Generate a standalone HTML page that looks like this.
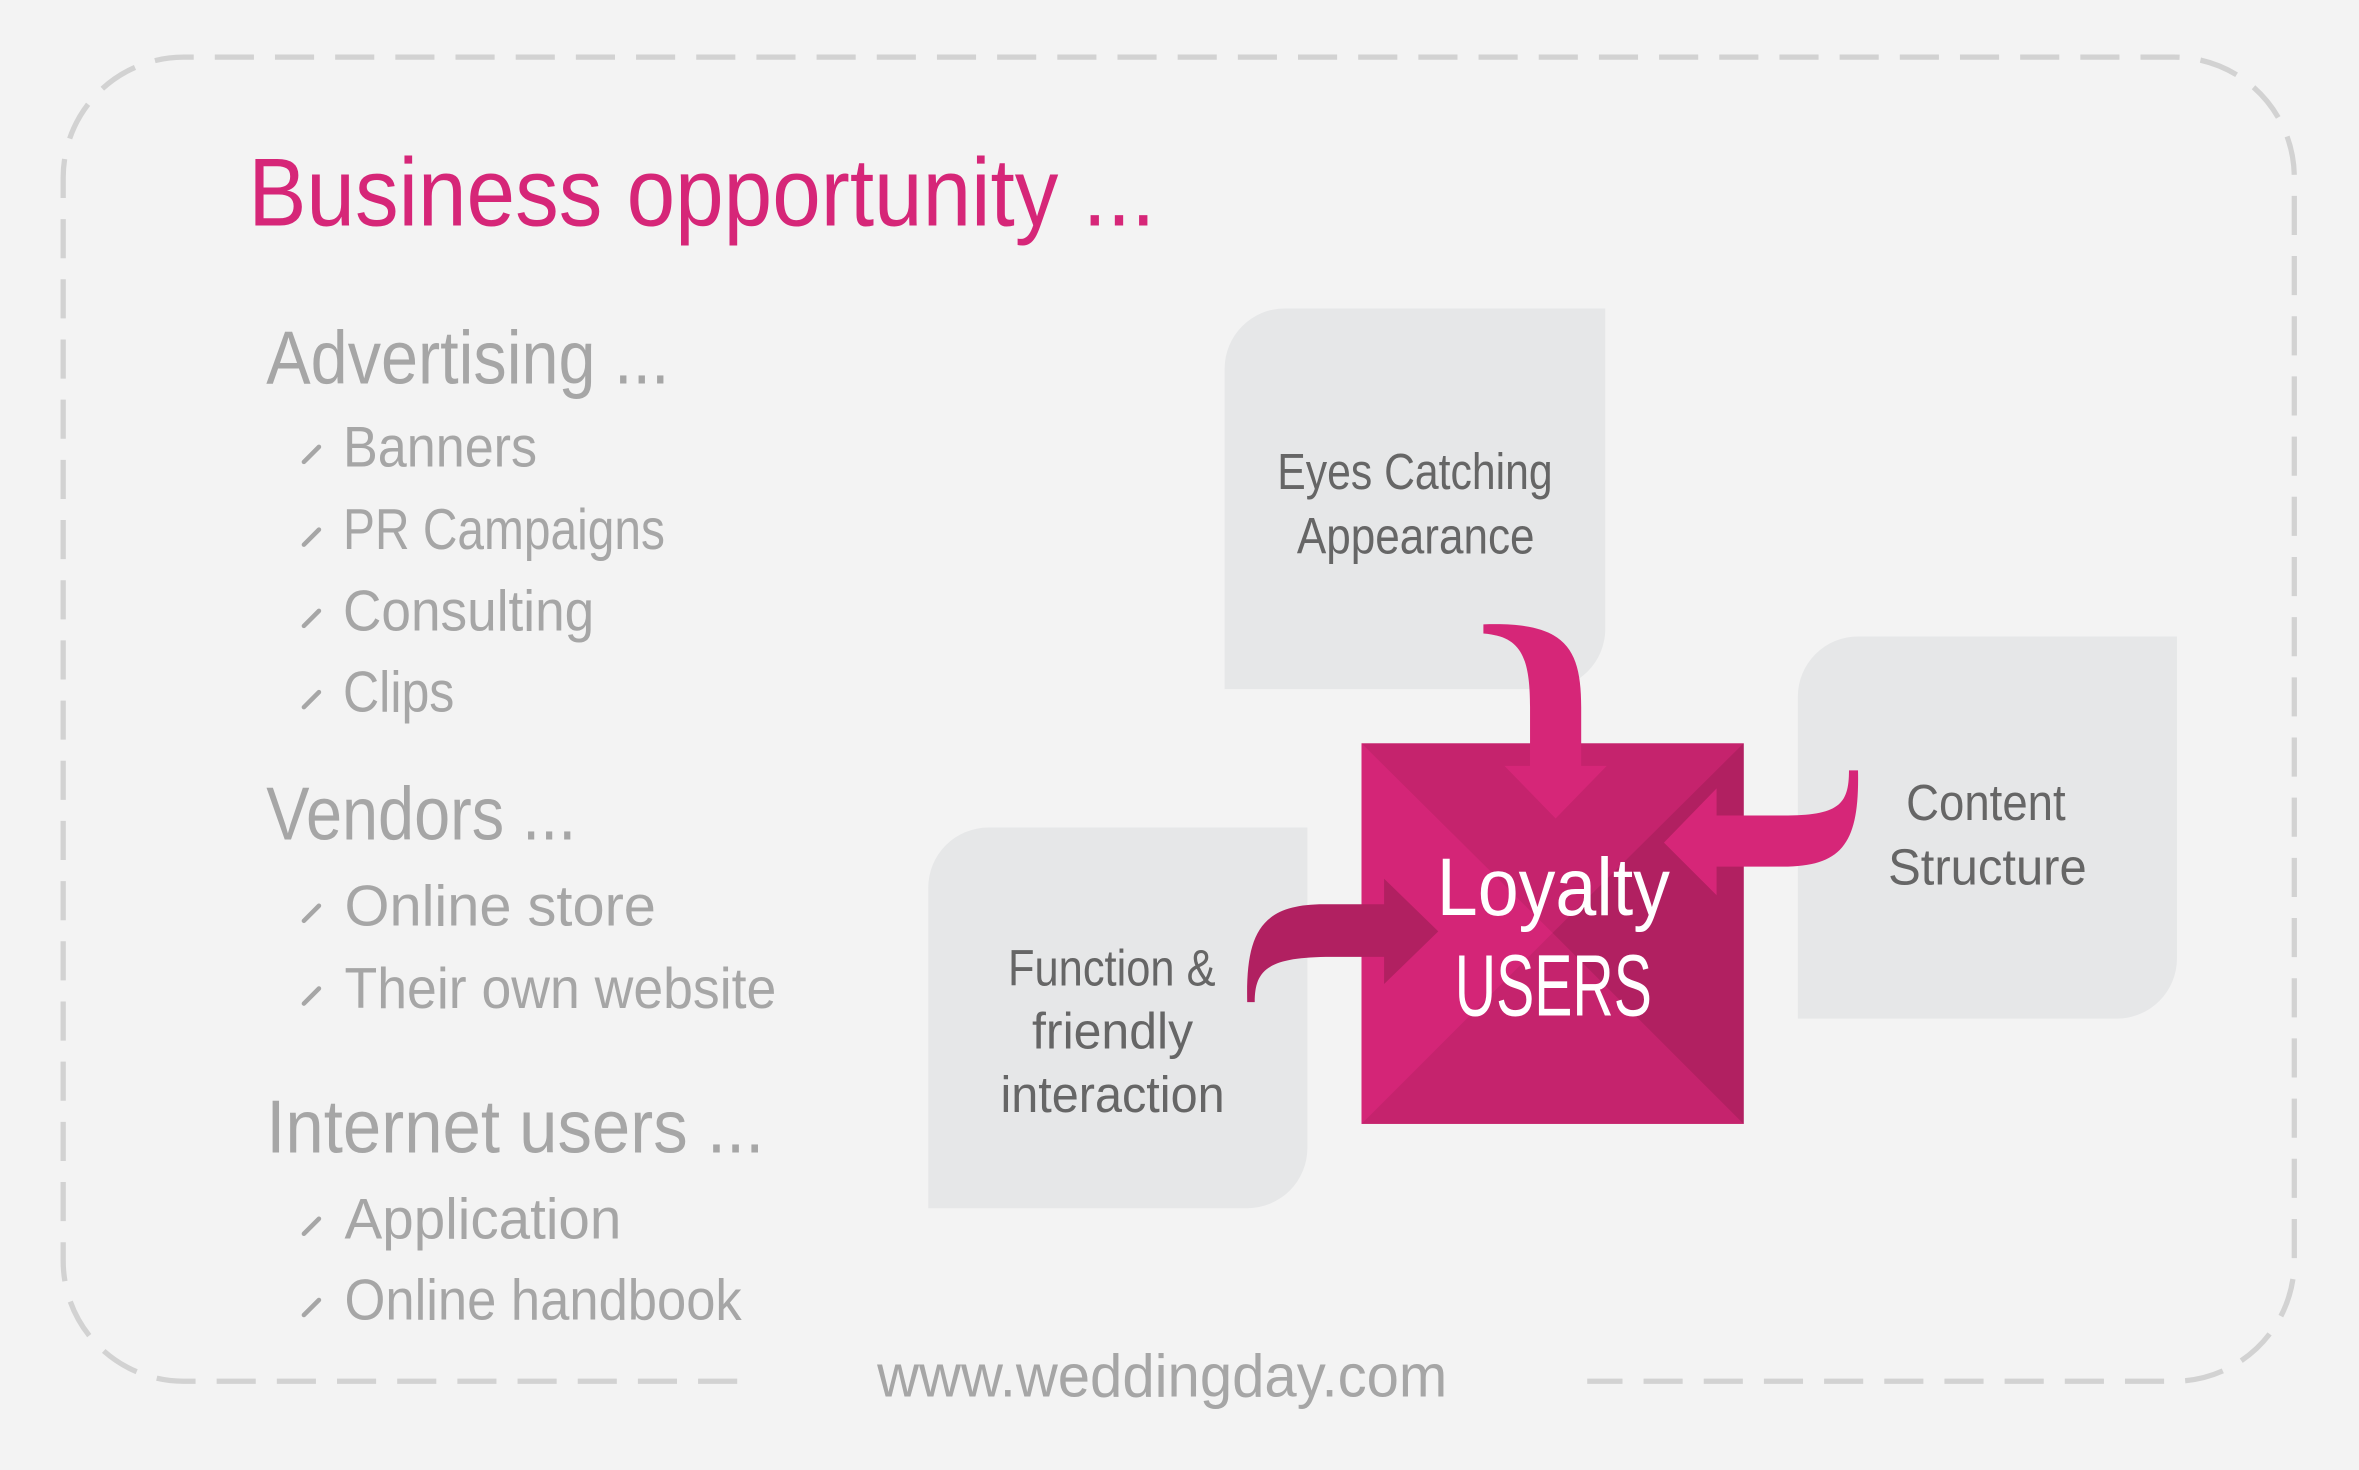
<!DOCTYPE html>
<html><head><meta charset="utf-8"><style>
html,body{margin:0;padding:0;background:#f3f3f3;}
svg{display:block}
text{font-family:"Liberation Sans Narrow","Liberation Sans",sans-serif;}
</style></head><body>
<svg width="2359" height="1470" viewBox="0 0 1568 977" preserveAspectRatio="none" xmlns="http://www.w3.org/2000/svg">
<rect width="1568" height="977" fill="#f3f3f3"/>
<path d="M490 918 L122 918 A80 80 0 0 1 42 838 L42 118 A80 80 0 0 1 122 38 L1445 38 A80 80 0 0 1 1525 118 L1525 838 A80 80 0 0 1 1445 918 L1055 918" fill="none" stroke="#d2d2d2" stroke-width="3.5" stroke-dasharray="26 14"/>

<text x="165" y="150" font-size="64" fill="#d62678" textLength="603" lengthAdjust="spacingAndGlyphs">Business opportunity ...</text>

<g fill="#a6a6a6">
<text x="177" y="255" font-size="50" textLength="268" lengthAdjust="spacingAndGlyphs">Advertising ...</text>
<text x="228" y="310" font-size="38" textLength="129" lengthAdjust="spacingAndGlyphs">Banners</text>
<text x="228" y="365" font-size="38" textLength="214" lengthAdjust="spacingAndGlyphs">PR Campaigns</text>
<text x="228" y="419" font-size="38" textLength="167" lengthAdjust="spacingAndGlyphs">Consulting</text>
<text x="228" y="473" font-size="38" textLength="74" lengthAdjust="spacingAndGlyphs">Clips</text>
<text x="177" y="558" font-size="50" textLength="206" lengthAdjust="spacingAndGlyphs">Vendors ...</text>
<text x="229" y="615" font-size="38" textLength="207" lengthAdjust="spacingAndGlyphs">Online store</text>
<text x="229" y="670" font-size="38" textLength="287" lengthAdjust="spacingAndGlyphs">Their own website</text>
<text x="177" y="766" font-size="50" textLength="331" lengthAdjust="spacingAndGlyphs">Internet users ...</text>
<text x="229" y="823" font-size="38" textLength="184" lengthAdjust="spacingAndGlyphs">Application</text>
<text x="229" y="877" font-size="38" textLength="264" lengthAdjust="spacingAndGlyphs">Online handbook</text>
<text x="583" y="928" font-size="40" textLength="379" lengthAdjust="spacingAndGlyphs">www.weddingday.com</text>
</g>
<g stroke="#a6a6a6" stroke-width="3" stroke-linecap="round">
<line x1="202" y1="307" x2="212" y2="297"/>
<line x1="202" y1="362" x2="212" y2="352"/>
<line x1="202" y1="416" x2="212" y2="406"/>
<line x1="202" y1="470" x2="212" y2="460"/>
<line x1="202" y1="612" x2="212" y2="602"/>
<line x1="202" y1="667" x2="212" y2="657"/>
<line x1="202" y1="820" x2="212" y2="810"/>
<line x1="202" y1="874" x2="212" y2="864"/>
</g>

<g fill="#e6e7e8">
<path d="M854 205 L1067 205 L1067 418 A40 40 0 0 1 1027 458 L814 458 L814 245 A40 40 0 0 1 854 205 Z"/>
<path d="M1235 423 L1447 423 L1447 637 A40 40 0 0 1 1407 677 L1195 677 L1195 463 A40 40 0 0 1 1235 423 Z"/>
<path d="M657 550 L869 550 L869 763 A40 40 0 0 1 829 803 L617 803 L617 590 A40 40 0 0 1 657 550 Z"/>
</g>
<g fill="#666" font-size="34">
<text x="849" y="325" textLength="183" lengthAdjust="spacingAndGlyphs">Eyes Catching</text>
<text x="862" y="368" textLength="158" lengthAdjust="spacingAndGlyphs">Appearance</text>
<text x="1267" y="545" textLength="106" lengthAdjust="spacingAndGlyphs">Content</text>
<text x="1255" y="588" textLength="132" lengthAdjust="spacingAndGlyphs">Structure</text>
<text x="670" y="655" textLength="138" lengthAdjust="spacingAndGlyphs">Function &amp;</text>
<text x="686" y="697" textLength="107" lengthAdjust="spacingAndGlyphs">friendly</text>
<text x="665" y="739" textLength="149" lengthAdjust="spacingAndGlyphs">interaction</text>
</g>

<rect x="905" y="494" width="254" height="253" fill="#c5236d"/>
<polygon points="905,494 1032,620 905,747" fill="#d42577"/>
<polygon points="1159,494 1032,620 1159,747" fill="#b12061"/>

<path d="M986 415 C1040 413 1051 430 1051 470 L1051 509 L1068 509 L1034 544 L1000 509 L1017 509 L1017 470 C1017 435 1010 423 986 421 Z" fill="#d62678"/>
<path d="M1235 512 C1236 560 1225 576 1185 576 L1141 576 L1141 595 L1106 560 L1141 524 L1141 542 L1185 542 C1222 542 1229 535 1229 512 Z" fill="#d62678"/>
<path d="M829 666 C828 620 838 601 880 601 L920 601 L920 584 L956 619 L920 654 L920 636 L885 636 C842 636 834 645 834 666 Z" fill="#b12061"/>

<text x="955" y="608" font-size="54" fill="#fff" textLength="155" lengthAdjust="spacingAndGlyphs">Loyalty</text>
<text x="967" y="675" font-size="58" fill="#fff" textLength="131" lengthAdjust="spacingAndGlyphs">USERS</text>
</svg>
</body></html>
